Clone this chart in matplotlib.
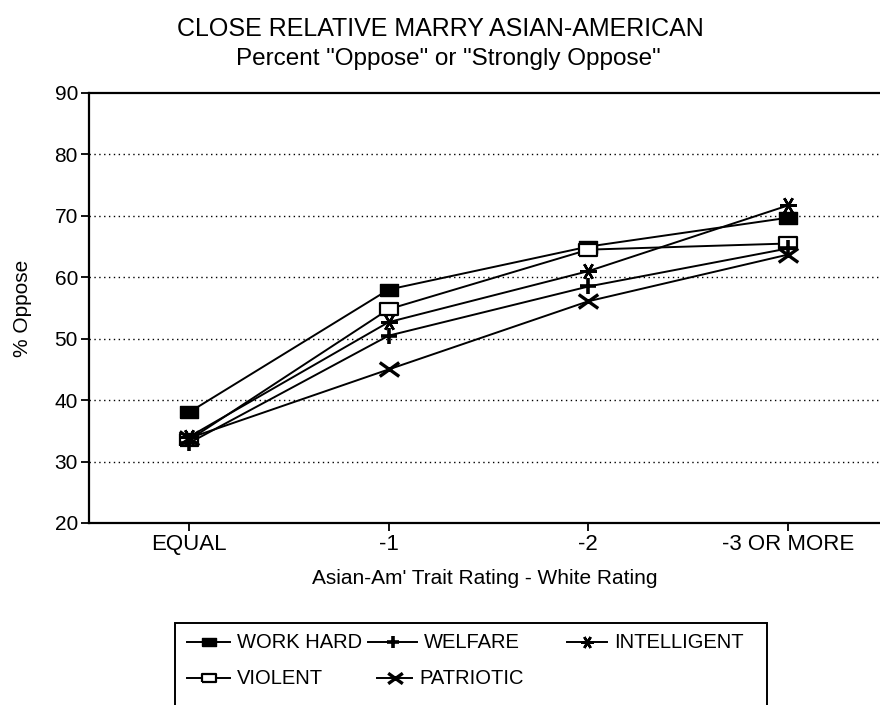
import matplotlib.pyplot as plt
from matplotlib.lines import Line2D
from matplotlib.patches import Rectangle
from matplotlib.path import Path

plt.rcParams['font.family'] = ['Liberation Sans', 'DejaVu Sans']

categories = ["EQUAL", "-1", "-2", "-3 OR MORE"]
work_hard = [38, 58, 65, 69.7]
welfare = [33, 50.5, 58.5, 64.7]
intelligent = [34, 52.7, 61, 71.7]
violent = [33.5, 54.8, 64.5, 65.5]
patriotic = [33.8, 45, 56.1, 63.7]

W, H = 880, 705

# wide box and wide cross, like the plotter symbols in the original
rect = [(-1.6, -1), (1.6, -1), (1.6, 1), (-1.6, 1), (-1.6, -1)]
cross = Path([(-1.4, -1), (1.4, 1), (-1.4, 1), (1.4, -1)],
             [Path.MOVETO, Path.LINETO, Path.MOVETO, Path.LINETO])

series = [
    ("WORK HARD", work_hard, dict(marker=rect, markersize=13, markerfacecolor='black')),
    ("VIOLENT", violent, dict(marker=rect, markersize=13, markerfacecolor='white', markeredgewidth=1.6)),
    ("WELFARE", welfare, dict(marker='+', markersize=11, markeredgewidth=2.6)),
    ("PATRIOTIC", patriotic, dict(marker=cross, markersize=14, markerfacecolor='none', markeredgewidth=2.4)),
    ("INTELLIGENT", intelligent, dict(marker=(6, 2, 90), markersize=12, markeredgewidth=1.8)),
]

fig = plt.figure(figsize=(W / 100, H / 100), dpi=100)
ax = fig.add_axes([89 / W, 1 - 523 / H, 1 - 89 / W, (523 - 93) / H])

x = list(range(len(categories)))
for name, vals, style in series:
    ax.plot(x, vals, color='black', linewidth=1.4, markeredgecolor='black',
            clip_on=False, **style)

ax.set_xlim(-0.5, 3.46)
ax.set_ylim(20, 90)
ax.set_yticks(range(20, 91, 10))
ax.set_xticks(x)
ax.set_xticklabels(categories)
for y in range(30, 90, 10):
    ax.axhline(y, color='black', linestyle=(0, (1, 2.5)), linewidth=1.0, zorder=0)

ax.spines['right'].set_visible(False)
for s in ['left', 'bottom', 'top']:
    ax.spines[s].set_linewidth(1.6)
ax.tick_params(axis='both', labelsize=15, direction='out', length=6, width=1.3, pad=2)
ax.tick_params(axis='x', labelsize=16)

ax.set_xlabel("Asian-Am' Trait Rating - White Rating", fontsize=15, labelpad=10)
ax.set_ylabel("% Oppose", fontsize=15, labelpad=16)

fig.text(0.5, 1 - 29 / H, "CLOSE RELATIVE MARRY ASIAN-AMERICAN", ha='center', va='center', fontsize=18)
fig.text(0.51, 1 - 59 / H, 'Percent "Oppose" or "Strongly Oppose"', ha='center', va='center',
         fontsize=17.5)

# legend drawn by hand: the box runs off the bottom of the page in the original
fig.patches.append(Rectangle((175 / W, 1 - 720 / H), 592 / W, (720 - 623) / H,
                             transform=fig.transFigure, fill=False, edgecolor='black', linewidth=1.4))
legend_slots = {
    "WORK HARD": (187, 230, 642),
    "WELFARE": (368, 417, 642),
    "INTELLIGENT": (567, 607, 642),
    "VIOLENT": (187, 230, 678),
    "PATRIOTIC": (377, 412, 678),
}
for name, vals, style in series:
    x0, x1, yy = legend_slots[name]
    st = dict(style)
    st['markersize'] = st['markersize'] * 0.75
    handle = Line2D([x0 / W, (x0 + x1) / 2 / W, x1 / W], [1 - yy / H] * 3,
                    transform=fig.transFigure, color='black', linewidth=1.4,
                    markeredgecolor='black', markevery=[1], **st)
    fig.lines.append(handle)
    fig.text((x1 + 7) / W, 1 - yy / H, name, ha='left', va='center', fontsize=14.5)

fig.savefig("out.png", dpi=100)
